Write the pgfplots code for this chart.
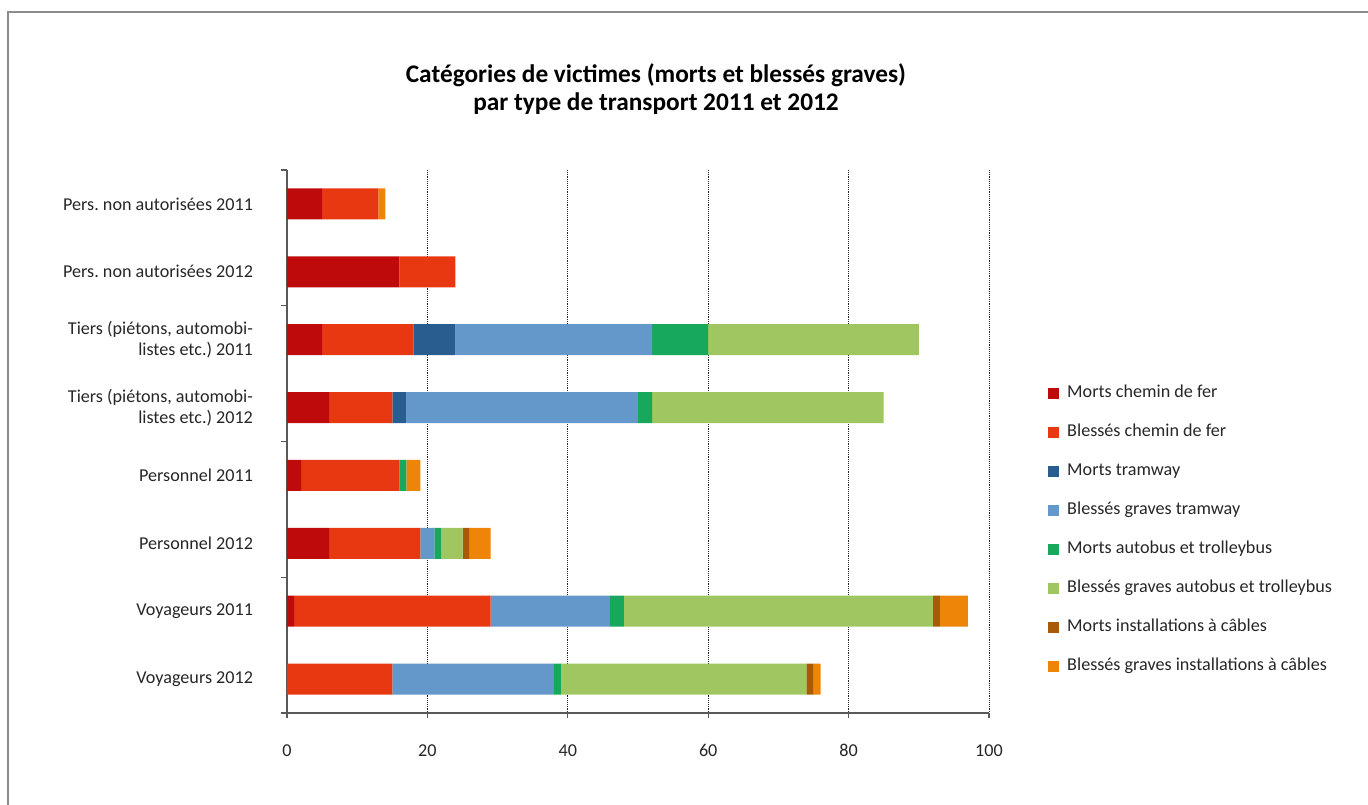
\documentclass[border=0pt]{standalone}
\usepackage{pgfplots}
\pgfplotsset{compat=1.18}
\usepackage{pgfplotstable}
\usepackage{fontspec}
\setmainfont{Carlito}
\frenchspacing

\definecolor{cMortsCF}{RGB}{190,10,10}
\definecolor{cBlessCF}{RGB}{232,56,18}
\definecolor{cMortsTR}{RGB}{42,93,143}
\definecolor{cBlessTR}{RGB}{100,151,202}
\definecolor{cMortsAB}{RGB}{23,168,91}
\definecolor{cBlessAB}{RGB}{159,198,96}
\definecolor{cMortsIC}{RGB}{168,90,6}
\definecolor{cBlessIC}{RGB}{238,132,8}

% victims per category (rows) and transport mode (columns)
\pgfplotstableread{
cat mcf bcf mtr btr mab bab mic bic
0   5   8   0   0   0   0   0   1
1   16  8   0   0   0   0   0   0
2   5   13  6   28  8   30  0   0
3   6   9   2   33  2   33  0   0
4   2   14  0   0   1   0   0   2
5   6   13  0   2   1   3   1   3
6   1   28  0   17  2   44  1   4
7   0   15  0   23  1   35  1   1
}\victimes

\begin{document}
\begin{tikzpicture}
\begin{scope}[x=0.75pt,y=-0.75pt]
  \useasboundingbox (0,0) rectangle (1368,805);
  \draw[black!45, line width=0.9pt] (8,806) -- (8,12) -- (1369,12);
  \node[font=\bfseries\fontsize{19}{20.5}\selectfont, align=center] at (656,89)
    {Catégories de victimes (morts et blessés graves)\\par type de transport 2011 et 2012};
\end{scope}
\begin{axis}[
  at={(215.25pt,-534.75pt)}, anchor=south west,
  scale only axis, width=526.5pt, height=407.25pt,
  xbar stacked, bar width=23.25pt,
  xmin=0, xmax=100, ymin=-0.5, ymax=7.5, y dir=reverse,
  axis x line*=bottom, axis y line*=left,
  axis line style={draw=black!65, line width=1.1pt},
  xtick={0,20,...,100},
  xmajorgrids,
  major grid style={densely dotted, black!85, line width=0.6pt},
  ytick={0,...,7},
  yticklabels={{Pers. non autorisées 2011},{Pers. non autorisées 2012},
    {Tiers (piétons, automobi-\\listes etc.) 2011},{Tiers (piétons, automobi-\\listes etc.) 2012},
    {Personnel 2011},{Personnel 2012},{Voyageurs 2011},{Voyageurs 2012}},
  major y tick style={draw=none},
  minor ytick={-0.5,1.5,3.5,5.5,7.5},
  minor y tick style={draw=black!65, line width=0.9pt},
  major x tick style={draw=black!65, line width=0.9pt},
  tick align=outside, major tick length=4pt, minor tick length=4.5pt,
  /pgf/number format/assume math mode=true,
  tick label style={font=\fontsize{13.6}{16}\selectfont, text=black!85},
  yticklabel style={align=right, xshift=-18pt},
  xticklabel style={yshift=-16pt},
  legend cell align=left,
  legend style={at={(1.084,0.603)}, anchor=north west, draw=none, fill=none,
    inner sep=0pt, row sep=17.2pt,
    font=\fontsize{13.6}{16}\selectfont, text=black!85,
    nodes={inner xsep=0pt, inner ysep=0pt, text height=9pt, text depth=3pt},
    /tikz/every odd column/.append style={column sep=6pt}},
  legend image code/.code={\fill[#1] (0pt,-4.1pt) rectangle (8.25pt,4.1pt);},
]
\addplot[fill=cMortsCF, draw=none] table[x=mcf, y=cat] {\victimes};
\addlegendentry{Morts chemin de fer}
\addplot[fill=cBlessCF, draw=none] table[x=bcf, y=cat] {\victimes};
\addlegendentry{Blessés chemin de fer}
\addplot[fill=cMortsTR, draw=none] table[x=mtr, y=cat] {\victimes};
\addlegendentry{Morts tramway}
\addplot[fill=cBlessTR, draw=none] table[x=btr, y=cat] {\victimes};
\addlegendentry{Blessés graves tramway}
\addplot[fill=cMortsAB, draw=none] table[x=mab, y=cat] {\victimes};
\addlegendentry{Morts autobus et trolleybus}
\addplot[fill=cBlessAB, draw=none] table[x=bab, y=cat] {\victimes};
\addlegendentry{Blessés graves autobus et trolleybus}
\addplot[fill=cMortsIC, draw=none] table[x=mic, y=cat] {\victimes};
\addlegendentry{Morts installations à câbles}
\addplot[fill=cBlessIC, draw=none] table[x=bic, y=cat] {\victimes};
\addlegendentry{Blessés graves installations à câbles}
\end{axis}
\end{tikzpicture}
\end{document}
